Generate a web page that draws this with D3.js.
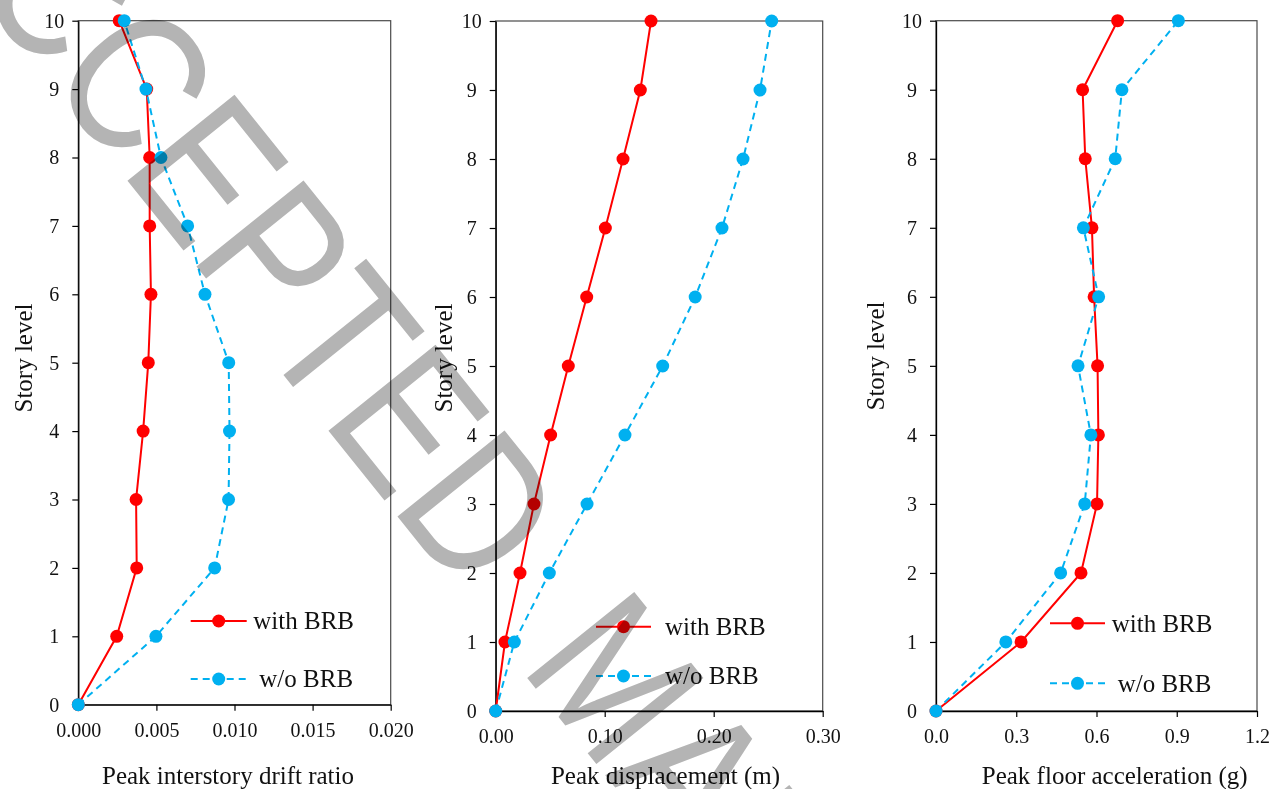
<!DOCTYPE html>
<html><head><meta charset="utf-8">
<script src="https://cdn.jsdelivr.net/npm/d3@7"></script>
<style>
body{margin:0;background:#fff;}
svg{display:block;}
.wm{mix-blend-mode:multiply;}
</style></head><body>
<svg id="c" width="1271" height="789"></svg>
<script>
// ---------- data ----------
const levels = [0,1,2,3,4,5,6,7,8,9,10];
const driftWith    = [0,0.00246,0.00374,0.00370,0.00415,0.00448,0.00465,0.00457,0.00457,0.00438,0.00262];
const driftWithout = [0,0.00497,0.00873,0.00962,0.00968,0.00963,0.00811,0.00700,0.00529,0.00433,0.00294];
const dispWith     = [0,0.0085,0.0223,0.0351,0.0504,0.0666,0.0835,0.1006,0.1168,0.1327,0.1425];
const dispWithout  = [0,0.0171,0.0492,0.0838,0.1186,0.1532,0.1830,0.2076,0.2269,0.2425,0.2532];
const accWith      = [0,0.318,0.542,0.602,0.607,0.604,0.591,0.583,0.558,0.548,0.679];
const accWithout   = [0,0.261,0.466,0.556,0.579,0.531,0.608,0.551,0.670,0.695,0.906];
const driftTicks = [0,0.005,0.010,0.015,0.020];
const dispTicks  = [0,0.10,0.20,0.30];
const accTicks   = [0,0.3,0.6,0.9,1.2];
const storyTicks = [0,1,2,3,4,5,6,7,8,9,10];
const seriesNames = ["with BRB","w/o BRB"];
const xTitles = ["Peak interstory drift ratio","Peak displacement (m)","Peak floor acceleration (g)"];
const yTitle = "Story level";
const watermarkWords = ["ACCEPTED","MANUSCRIPT"];

// ---------- layout ----------
const RED = "#ff0000", BLUE = "#00b0f0";
const FONT = "'Liberation Serif','Times New Roman',serif";
const panels = [
  {x0:78.3,x1:390.7,y0:704.7,y1:20.7,dom:[0,0.02],ticks:driftTicks,fmt:".3f",w:driftWith,wo:driftWithout,
   title:xTitles[0],titleX:228,yTX:31.5,yTY:358,
   leg:{x0:190.7,x1:246.7,y1:621,y2:679,tx1:253.3,tx2:259.3}},
  {x0:495.7,x1:822.7,y0:711,y1:21,dom:[0,0.3],ticks:dispTicks,fmt:".2f",w:dispWith,wo:dispWithout,
   title:xTitles[1],titleX:665.5,yTX:451.7,yTY:358,
   leg:{x0:596,x1:651,y1:626.7,y2:676,tx1:665,tx2:665}},
  {x0:936,x1:1257,y0:711,y1:20.7,dom:[0,1.2],ticks:accTicks,fmt:".1f",w:accWith,wo:accWithout,
   title:xTitles[2],titleX:1114.7,yTX:884.3,yTY:356,
   leg:{x0:1050,x1:1105,y1:623.3,y2:683.3,tx1:1111.7,tx2:1117.7}}
];

const svg = d3.select("#c");
svg.append("rect").attr("width",1271).attr("height",789).attr("fill","#fff");

panels.forEach(p=>{
  const x = d3.scaleLinear().domain(p.dom).range([p.x0,p.x1]);
  const y = d3.scaleLinear().domain([0,10]).range([p.y0,p.y1]);
  const g = svg.append("g");
  // frame
  g.append("rect").attr("x",p.x0).attr("y",p.y1).attr("width",p.x1-p.x0).attr("height",p.y0-p.y1)
    .attr("fill","none").attr("stroke","#4a4a4a").attr("stroke-width",1.2);
  // axes
  const ax = g.append("g").attr("transform",`translate(0,${p.y0})`)
    .call(d3.axisBottom(x).tickValues(p.ticks).tickFormat(d3.format(p.fmt)).tickSize(6).tickSizeOuter(0).tickPadding(12));
  const ay = g.append("g").attr("transform",`translate(${p.x0},0)`)
    .call(d3.axisLeft(y).tickValues(storyTicks).tickFormat(d3.format("d")).tickSize(6).tickSizeOuter(0).tickPadding(3));
  [ax,ay].forEach(a=>{
    a.select(".domain").attr("stroke","#000").attr("stroke-width",1.3);
    a.selectAll(".tick line").attr("stroke","#000").attr("stroke-width",1.2);
    a.selectAll(".tick text").attr("font-family",FONT).attr("font-size",20).attr("fill","#111");
  });
  ay.selectAll(".tick text").attr("text-anchor","middle").attr("x",-24);
  // titles
  g.append("text").attr("x",p.titleX).attr("y",784).attr("text-anchor","middle")
    .attr("font-family",FONT).attr("font-size",25).attr("fill","#111").text(p.title);
  g.append("text").attr("transform",`translate(${p.yTX},${p.yTY}) rotate(-90)`).attr("text-anchor","middle")
    .attr("font-family",FONT).attr("font-size",25).attr("fill","#111").text(yTitle);
  // series
  const line = d3.line().x(d=>x(d[0])).y(d=>y(d[1]));
  const sets = [
    {vals:p.w,color:RED,dash:null},
    {vals:p.wo,color:BLUE,dash:"7,5"}
  ];
  sets.forEach(s=>{
    const pts = s.vals.map((v,i)=>[v,levels[i]]);
    g.append("path").datum(pts).attr("d",line).attr("fill","none").attr("stroke",s.color)
      .attr("stroke-width",2).attr("stroke-dasharray",s.dash);
    g.selectAll(null).data(pts).enter().append("circle")
      .attr("cx",d=>x(d[0])).attr("cy",d=>y(d[1])).attr("r",6.5).attr("fill",s.color);
  });
  // legend
  const L = p.leg;
  [[L.y1,L.tx1,RED,null,seriesNames[0]],[L.y2,L.tx2,BLUE,"7,5",seriesNames[1]]].forEach(([ly,tx,c,dash,name])=>{
    g.append("line").attr("x1",L.x0).attr("x2",L.x1).attr("y1",ly).attr("y2",ly)
      .attr("stroke",c).attr("stroke-width",2).attr("stroke-dasharray",dash);
    g.append("circle").attr("cx",(L.x0+L.x1)/2).attr("cy",ly).attr("r",6.5).attr("fill",c);
    g.append("text").attr("x",tx).attr("y",ly+8.3).attr("font-family",FONT).attr("font-size",25)
      .attr("fill","#111").text(name);
  });
});

// watermark
const wm = svg.append("g").attr("class","wm")
  .attr("transform","translate(-99.3,-101.2) rotate(51.2) scale(1,1.21)");
const wt = wm.append("text").attr("font-family","'Liberation Sans',Arial,sans-serif")
  .attr("font-size",165).attr("fill","#b4b4b4");
wt.append("tspan").text(watermarkWords[0]);
wt.append("tspan").attr("dx",88).text(watermarkWords[1]);
</script>
</body></html>
